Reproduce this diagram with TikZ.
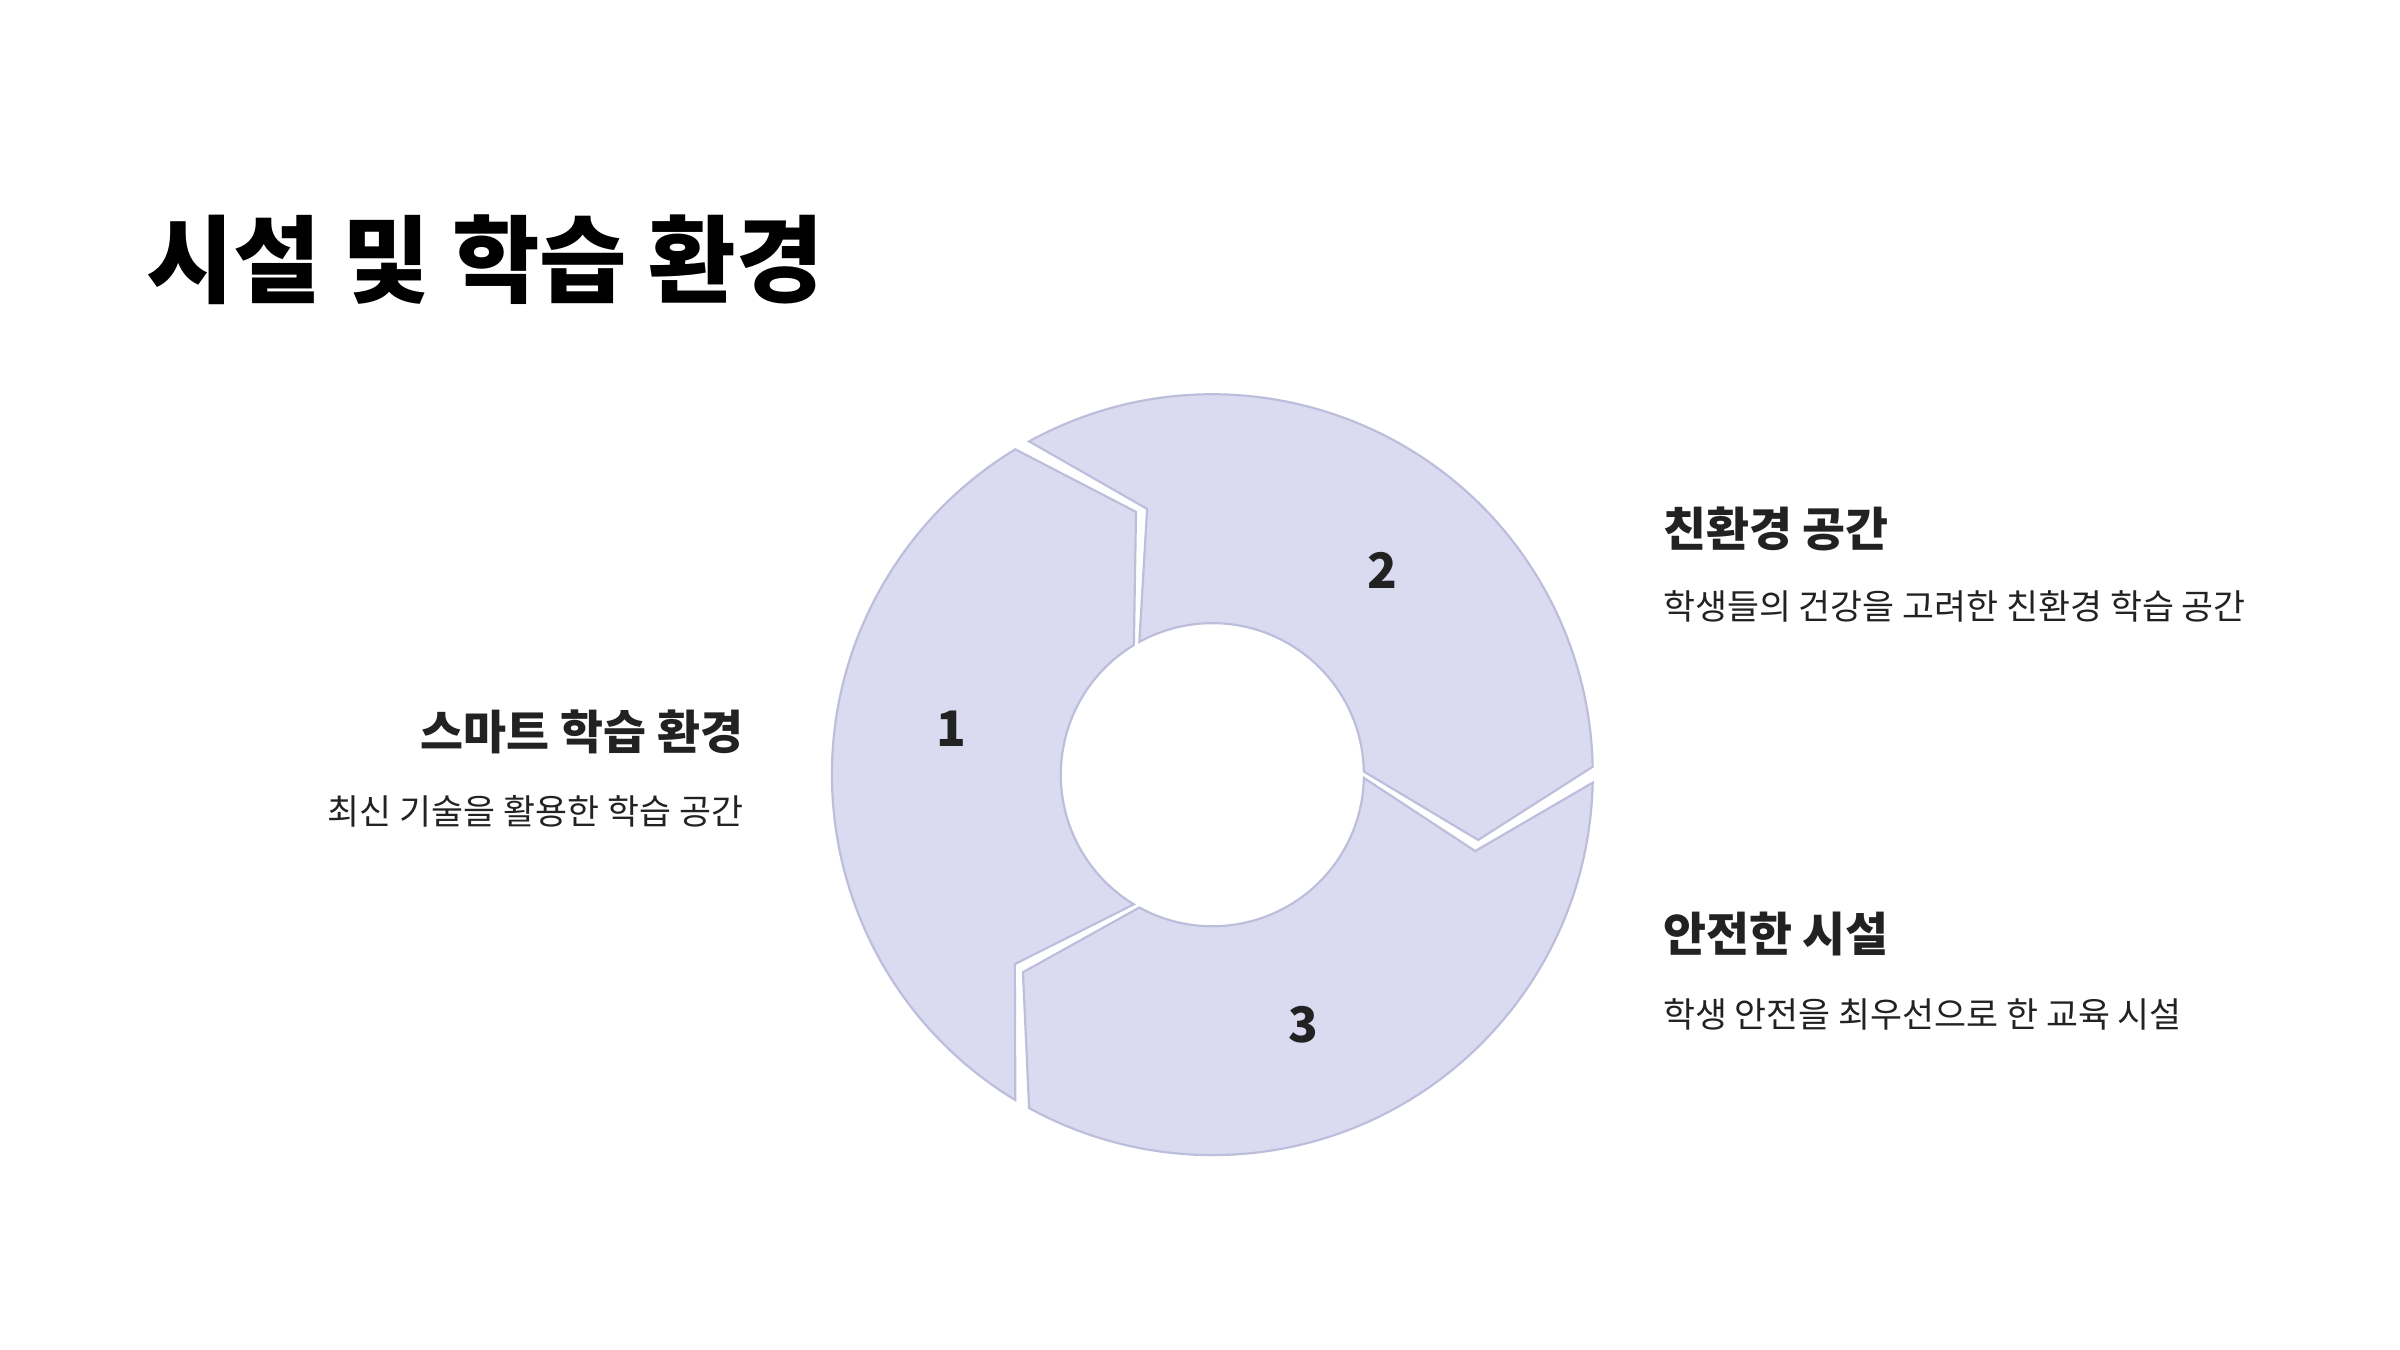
\documentclass[tikz,border=0pt]{standalone}
\usepackage{fontspec}
\setmainfont{Noto Sans CJK KR}
\usetikzlibrary{positioning}
\definecolor{segfill}{HTML}{DADAF0}
\definecolor{segline}{HTML}{BDBDDC}
\definecolor{ink}{HTML}{222222}

\begin{document}
\begin{tikzpicture}[scale=1,
  seg/.style={fill=segfill, draw=segline, line width=0.4pt},
  num/.style={font=\fontsize{9}{9}\selectfont\bfseries, text=ink},
  head/.style={font=\fontsize{8.6}{9}\selectfont\bfseries, text=ink},
  body/.style={font=\fontsize{6.4}{7}\selectfont, text=ink}]
\useasboundingbox (0,0) rectangle (15.52,8.73);
\node[anchor=west, font=\fontsize{17.5}{18}\selectfont\bfseries] (title) at (0.82,7.05) {시설 및 학습 환경};

% donut segments
\begin{scope}[shift={(7.84,3.72)}]
\foreach \a in {240,120,0}
  \draw[seg] (\a-1.2:2.46) arc[start angle=\a-1.2, end angle=\a-118.8, radius=2.46]
    -- (\a-133.8:1.77) -- (\a-118.8:0.98)
    arc[start angle=\a-118.8, end angle=\a-1.2, radius=0.98]
    -- (\a-16.2:1.77) -- cycle;
\end{scope}
\node[num] (n1) at (6.15,4.02) {1};
\node[num] (n2) at (8.94,5.04) {2};
\node[num] (n3) at (8.43,2.10) {3};

% labels
\node[head, anchor=east] (h1) at (4.93,4.00) {스마트 학습 환경};
\node[body, anchor=east] (b1) at (4.93,3.48) {최신 기술을 활용한 학습 공간};
\node[head, anchor=west] (h2) at (10.63,5.31) {친환경 공간};
\node[body, anchor=west] (b2) at (10.63,4.81) {학생들의 건강을 고려한 친환경 학습 공간};
\node[head, anchor=west] (h3) at (10.63,2.69) {안전한 시설};
\node[body, anchor=west] (b3) at (10.63,2.17) {학생 안전을 최우선으로 한 교육 시설};
\end{tikzpicture}
\end{document}
